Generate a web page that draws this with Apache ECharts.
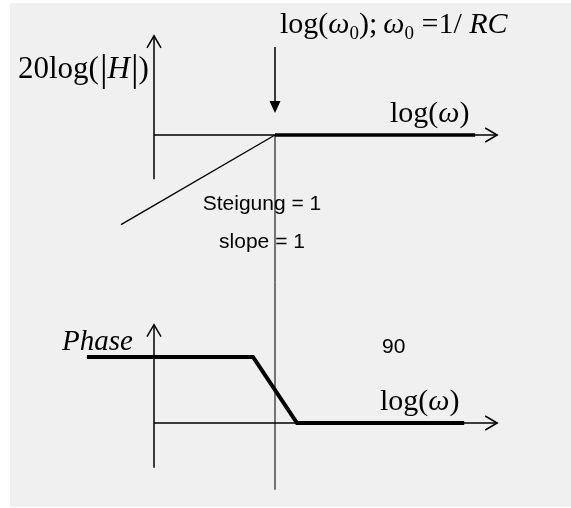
<!DOCTYPE html>
<html>
<head>
<meta charset="utf-8">
<script src="https://cdn.jsdelivr.net/npm/echarts@6/dist/echarts.min.js"></script>
<style>
html,body{margin:0;padding:0;background:#fff;}
#c{width:571px;height:508px;}
</style>
</head>
<body>
<div id="c"></div>
<script>
// x: log10(omega/omega0) in decades (omega0 at 0)
// magnitude in dB, phase in degrees
const magAsymptote = [[0, 0], [9.1, 0]];          // thick high-frequency asymptote
const magSlope = [[-7, -140], [0, 0]];             // slope = 1 (20 dB/decade)
const phaseAsymptote = [[-8.55, 90], [-1, 90], [1, 0], [8.6, 0]];
const markerMag = [[0, 0], [0, -230]];             // vertical line at log(omega0)
const markerPhase = [[0, 192], [0, -91]];
// arrows: [x1, y1, x2, y2, filledHead]
const magArrows = [[-5.5, -69, -5.5, 155, 0], [-5.5, 0, 10.1, 0, 0], [0, 137.5, 0, 34.4, 1]];
const phaseArrows = [[-5.5, -61, -5.5, 134, 0], [-5.5, 0, 10.1, 0, 0]];
const xRange = [-12, 13];
const magRange = [-230, 160];
const phaseRange = [-105, 192];

const SERIF = "'Liberation Serif','Times New Roman',serif";
const SANS = "'Liberation Sans',Arial,sans-serif";
const mctx = document.createElement('canvas').getContext('2d');

function runs(list, x0, baseline) {
  let x = x0; const out = [];
  for (const r of list) {
    const [t, size, italic, family, dy, dx] = r;
    x += (dx || 0);
    const fam = family || SERIF;
    mctx.font = (italic ? 'italic ' : '') + size + 'px ' + fam;
    const w = mctx.measureText(t).width;
    out.push({
      type: 'text', z: 10, silent: true,
      style: {
        x: x, y: baseline + (dy || 0) - 0.34 * size, text: t,
        fontSize: size, fontFamily: fam, fontStyle: italic ? 'italic' : 'normal',
        fill: '#000', align: 'left', verticalAlign: 'middle'
      }
    });
    x += w;
  }
  return out;
}
function centered(t, size, cx, cy, family) {
  return {
    type: 'text', z: 10, silent: true,
    style: { x: cx, y: cy, text: t, fontSize: size, fontFamily: family, fill: '#000', align: 'center', verticalAlign: 'middle' }
  };
}

function arrowRender(params, api) {
  const p1 = api.coord([api.value(0), api.value(1)]);
  const p2 = api.coord([api.value(2), api.value(3)]);
  const filled = api.value(4) === 1;
  const dx = p2[0] - p1[0], dy = p2[1] - p1[1];
  const L = Math.hypot(dx, dy); const ux = dx / L, uy = dy / L;
  const hl = filled ? 12 : 12, hw = filled ? 5.5 : 7;
  const bx = p2[0] - ux * hl, by = p2[1] - uy * hl;
  const l = [bx - uy * hw, by + ux * hw], r = [bx + uy * hw, by - ux * hw];
  const children = [{
    type: 'line',
    shape: { x1: p1[0], y1: p1[1], x2: filled ? bx : p2[0], y2: filled ? by : p2[1] },
    style: { stroke: '#000', lineWidth: 1.5 }
  }];
  if (filled) {
    children.push({ type: 'polygon', shape: { points: [l, p2, r] }, style: { fill: '#000' } });
  } else {
    children.push({ type: 'polyline', shape: { points: [l, p2, r] }, style: { stroke: '#000', lineWidth: 1.5, fill: null } });
  }
  return { type: 'group', children: children };
}

const chart = echarts.init(document.getElementById('c'), null, { renderer: 'canvas' });

const texts = [].concat(
  runs([['log(', 30], ['ω', 30, true], ['0', 19, false, SERIF, 5], [');', 30], ['ω', 30, true, SERIF, 0, 6], ['0', 19, false, SERIF, 5], [' =1/ ', 30], ['RC', 30, true]], 280, 35),
  runs([['20log(', 31], ['|', 38, false, SERIF, 4, 1], ['H', 31, true], ['|', 38, false, SERIF, 4, 1], [')', 31]], 18, 80),
  runs([['log(', 30], ['ω', 30, true], [')', 30]], 390, 124),
  runs([['Phase', 29, true]], 62, 352),
  runs([['log(', 30], ['ω', 30, true], [')', 30]], 380, 412),
  [centered('Steigung = 1', 21, 262, 204, SANS), centered('slope = 1', 21, 262, 242, SANS)],
  runs([['90', 21, false, SANS]], 382, 354)
);

const option = {
  animation: false,
  backgroundColor: '#fff',
  graphic: [{ type: 'rect', z: -100, silent: true, shape: { x: 10, y: 3, width: 561, height: 504 }, style: { fill: '#f0f0f0' } }].concat(texts),
  grid: [
    { left: 11, width: 550, top: 32.6, height: 249.6 },
    { left: 11, width: 550, top: 282.2, height: 217.8 }
  ],
  xAxis: [
    { type: 'value', gridIndex: 0, min: xRange[0], max: xRange[1], show: false },
    { type: 'value', gridIndex: 1, min: xRange[0], max: xRange[1], show: false }
  ],
  yAxis: [
    { type: 'value', gridIndex: 0, min: magRange[0], max: magRange[1], show: false },
    { type: 'value', gridIndex: 1, min: phaseRange[0], max: phaseRange[1], show: false }
  ],
  series: [
    { type: 'line', xAxisIndex: 0, yAxisIndex: 0, data: markerMag, symbol: 'none', clip: false, silent: true, lineStyle: { color: '#222', width: 1.2 }, z: 1 },
    { type: 'line', xAxisIndex: 1, yAxisIndex: 1, data: markerPhase, symbol: 'none', clip: false, silent: true, lineStyle: { color: '#222', width: 1.2 }, z: 1 },
    { type: 'custom', xAxisIndex: 0, yAxisIndex: 0, data: magArrows, renderItem: arrowRender, silent: true, z: 2 },
    { type: 'custom', xAxisIndex: 1, yAxisIndex: 1, data: phaseArrows, renderItem: arrowRender, silent: true, z: 2 },
    { type: 'line', xAxisIndex: 0, yAxisIndex: 0, data: magSlope, symbol: 'none', clip: false, silent: true, lineStyle: { color: '#000', width: 1.4 }, z: 3 },
    { type: 'line', xAxisIndex: 0, yAxisIndex: 0, data: magAsymptote, symbol: 'none', clip: false, silent: true, lineStyle: { color: '#000', width: 3.5 }, z: 4 },
    { type: 'line', xAxisIndex: 1, yAxisIndex: 1, data: phaseAsymptote, symbol: 'none', clip: false, silent: true, lineStyle: { color: '#000', width: 4, join: 'miter' }, z: 4 }
  ]
};
chart.setOption(option);
</script>
</body>
</html>
